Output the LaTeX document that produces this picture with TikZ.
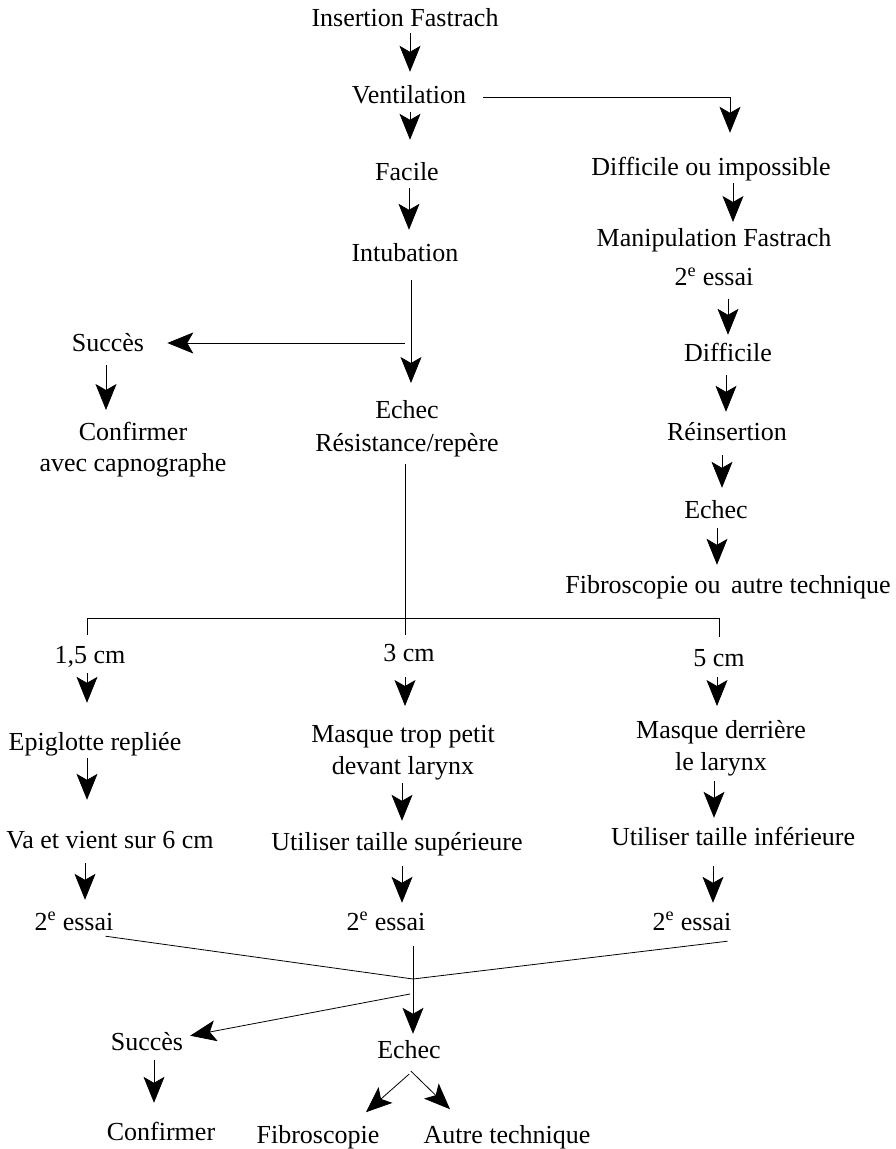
\documentclass[tikz,border=0pt]{standalone}
\usepackage{fontspec}
\setmainfont{Liberation Serif}
\usetikzlibrary{arrows.meta}
\newcommand\varr[5]{\draw[arr,shorten <=#4pt,shorten >=#5pt] (#1.south -| #3,0) -- (#2.north -| #3,0);}
\begin{document}
\begin{tikzpicture}[x=1pt,y=-1pt,
  lbl/.style={inner sep=0pt, text height=18pt, text depth=6pt, anchor=base, font=\fontsize{26}{32}\selectfont},
  lbl2/.style={inner sep=0pt, align=center, anchor=north},
  arr/.style={line width=0.8pt, -{Stealth[length=26pt,width=21pt,inset=6pt]}},
  ln/.style={line width=0.8pt}]
\useasboundingbox (0,0) rectangle (895,1149);
% nodes
\node[lbl] (ins) at (405,26) {Insertion Fastrach};
\node[lbl] (vent) at (409,103) {Ventilation};
\node[lbl] (fac) at (407,180) {Facile};
\node[lbl] (intub) at (405,261) {Intubation};
\node[lbl] (succ1) at (108,351) {Succès};
\node[lbl2, font=\fontsize{26}{31}\selectfont] (conf1) at (133,422) {Confirmer\\avec capnographe};
\node[lbl2, font=\fontsize{26}{33}\selectfont] (ech1) at (407,400) {Echec\\Résistance/repère};
\node[lbl] (dif) at (711,175) {Difficile ou impossible};
\node[lbl2, font=\fontsize{26}{39}\selectfont] (manip) at (714,228) {Manipulation Fastrach\\2\textsuperscript{e} essai};
\node[lbl] (dif2) at (728,361) {Difficile};
\node[lbl] (reins) at (727,440) {Réinsertion};
\node[lbl] (ech3) at (716,518) {Echec};
\node[lbl] (fib3) at (728,593) {Fibroscopie ou\hspace{4pt} autre technique};
\node[lbl] (cm15) at (90,663) {1,5 cm};
\node[lbl] (cm3) at (409,661) {3 cm};
\node[lbl] (cm5) at (719,666) {5 cm};
\node[lbl] (epi) at (95,750) {Epiglotte repliée};
\node[lbl2, font=\fontsize{26}{32}\selectfont] (msq1) at (403,725) {Masque trop petit\\devant larynx};
\node[lbl2, font=\fontsize{26}{32}\selectfont] (msq2) at (721,720) {Masque derrière\\le larynx};
\node[lbl] (va) at (110,848) {Va et vient sur 6 cm};
\node[lbl] (util1) at (397,850) {Utiliser taille supérieure};
\node[lbl] (util2) at (733,845) {Utiliser taille inférieure};
\node[lbl] (ess1) at (74,930) {2\textsuperscript{e} essai};
\node[lbl] (ess2) at (386,930) {2\textsuperscript{e} essai};
\node[lbl] (ess3) at (692,930) {2\textsuperscript{e} essai};
\node[lbl] (succ2) at (147,1050) {Succès};
\node[lbl] (ech2) at (409,1058) {Echec};
\node[lbl] (conf2) at (161,1140) {Confirmer};
\node[lbl] (fib) at (318,1143) {Fibroscopie};
\node[lbl] (autre) at (507,1143) {Autre technique};
% coordinates
\coordinate (j1) at (405,343);
\coordinate (bL) at (87,618);
\coordinate (bR) at (719,618);
\coordinate (m) at (413,979);
\coordinate (j3) at (410,994);
% left/centre column
\varr{ins}{vent}{410}{1}{13}
\varr{vent}{fac}{410}{3}{22}
\varr{fac}{intub}{409}{2}{13}
\varr{intub}{ech1}{411}{13}{17}
\draw[arr, shorten >=23pt] (j1) -- (succ1.east |- j1);
\varr{succ1}{conf1}{106}{8}{12}
\draw[ln, shorten <=7pt, shorten >=8pt] (ech1.south -| 405,0) -- (cm3.north -| 405,0);
\draw[ln, shorten <=10pt, shorten >=11pt] (cm15.north -| bL) -- (bL) -- (bR) -- (cm5.north -| bR);
% right column
\draw[arr, shorten <=17pt, shorten >=24pt] (vent.east) -| (dif.north -| 730,0);
\varr{dif}{manip}{733}{2}{6}
\varr{manip}{dif2}{728}{13}{8}
\varr{dif2}{reins}{726}{8}{10}
\varr{reins}{ech3}{722}{9}{12}
\varr{ech3}{fib3}{717}{4}{10}
% three branches
\varr{cm15}{epi}{87}{4}{29}
\varr{epi}{va}{87}{2}{30}
\varr{va}{ess1}{85}{9}{12}
\varr{cm3}{msq1}{405}{10}{19}
\varr{msq1}{util1}{402}{3}{11}
\varr{util1}{ess2}{402}{10}{9}
\varr{cm5}{msq2}{717}{5}{14}
\varr{msq2}{util2}{714}{5}{9}
\varr{util2}{ess3}{713}{15}{9}
% convergence
\draw[ln] ([xshift=-8pt]ess1.south east) -- (m);
\draw[ln] ([xshift=-4pt,yshift=-5pt]ess3.south east) -- (m);
\varr{ess2}{ech2}{413}{10}{6}
\draw[arr, shorten >=7pt] (j3) -- ([yshift=7pt]succ2.east);
\varr{succ2}{conf2}{154}{4}{19}
\draw[arr] ([yshift=-10pt]ech2.south) -- ++(-43,38);
\draw[arr] ([xshift=2pt,yshift=-7pt]ech2.south) -- ++(39,38);
\end{tikzpicture}
\end{document}
